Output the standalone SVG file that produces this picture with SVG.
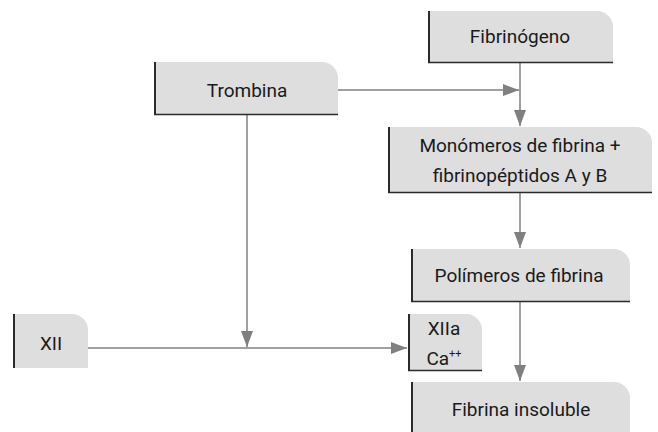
<svg xmlns="http://www.w3.org/2000/svg" width="658" height="432" viewBox="0 0 658 432">
  <style>
    .box { fill: #dedede; }
    .edge-l { stroke: #2b2b2b; stroke-width: 2; fill: none; }
    .edge-b { stroke: #2b2b2b; stroke-width: 1.5; fill: none; }
    .lbl { font-family: Roboto, "Noto Sans", sans-serif; font-size: 19px; fill: #1a1a1a; text-anchor: middle; }
    .conn { stroke: #808080; stroke-width: 1.5; fill: none; }
  </style>
  <defs>
    <marker id="arrow" viewBox="0 0 16 12" refX="16" refY="6" markerWidth="16" markerHeight="12" markerUnits="userSpaceOnUse" orient="auto">
      <path d="M0,0 L16,6 L0,12 Z" fill="#808080"/>
    </marker>
  </defs>

  <rect width="658" height="432" fill="#ffffff"/>

  <!-- connectors -->
  <g id="connectors">
    <line class="conn" x1="338" y1="90" x2="519" y2="90" marker-end="url(#arrow)"/>
    <line class="conn" x1="520" y1="63" x2="520" y2="126" marker-end="url(#arrow)"/>
    <line class="conn" x1="520" y1="193" x2="520" y2="248" marker-end="url(#arrow)"/>
    <line class="conn" x1="520" y1="302" x2="520" y2="381" marker-end="url(#arrow)"/>
    <line class="conn" x1="247" y1="115" x2="247" y2="347" marker-end="url(#arrow)"/>
    <line class="conn" x1="88" y1="348" x2="407" y2="348" marker-end="url(#arrow)"/>
  </g>

  <!-- Trombina -->
  <g id="trombina">
    <path class="box" d="M154,62 H322 A16,16 0 0 1 338,78 V115 H154 Z"/>
    <line class="edge-l" x1="155" y1="62" x2="155" y2="115"/>
    <line class="edge-b" x1="154" y1="114.5" x2="338" y2="114.5"/>
    <text class="lbl" x="247" y="97">Trombina</text>
  </g>

  <!-- Fibrinógeno -->
  <g id="fibrinogeno">
    <path class="box" d="M428,11 H597 A16,16 0 0 1 613,27 V63 H428 Z"/>
    <line class="edge-l" x1="429" y1="11" x2="429" y2="63"/>
    <line class="edge-b" x1="428" y1="62.5" x2="613" y2="62.5"/>
    <text class="lbl" x="520" y="43">Fibrinógeno</text>
  </g>

  <!-- Monómeros de fibrina + fibrinopéptidos A y B -->
  <g id="monomeros">
    <path class="box" d="M388,127 H636 A16,16 0 0 1 652,143 V193 H388 Z"/>
    <line class="edge-l" x1="389" y1="127" x2="389" y2="193"/>
    <line class="edge-b" x1="388" y1="192.5" x2="652" y2="192.5"/>
    <text class="lbl" x="520" y="152">Monómeros de fibrina +</text>
    <text class="lbl" x="520" y="182">fibrinopéptidos A y B</text>
  </g>

  <!-- Polímeros de fibrina -->
  <g id="polimeros">
    <path class="box" d="M411,249 H614 A16,16 0 0 1 630,265 V302 H411 Z"/>
    <line class="edge-l" x1="412" y1="249" x2="412" y2="302"/>
    <line class="edge-b" x1="411" y1="301.5" x2="630" y2="301.5"/>
    <text class="lbl" x="519" y="282">Polímeros de fibrina</text>
  </g>

  <!-- XII -->
  <g id="xii">
    <path class="box" d="M13,314 H72 A16,16 0 0 1 88,330 V368 H13 Z"/>
    <line class="edge-l" x1="14" y1="314" x2="14" y2="368"/>
    <text class="lbl" x="51" y="350">XII</text>
  </g>

  <!-- XIIa / Ca++ -->
  <g id="xiia">
    <path class="box" d="M408,314 H466 A16,16 0 0 1 482,330 V371 H408 Z"/>
    <line class="edge-l" x1="409" y1="314" x2="409" y2="371"/>
    <line class="edge-b" x1="408" y1="370.5" x2="482" y2="370.5"/>
    <text class="lbl" x="444" y="335">XIIa</text>
    <text class="lbl" x="444" y="365">Ca<tspan font-size="11" dy="-8">++</tspan></text>
  </g>

  <!-- Fibrina insoluble -->
  <g id="fibrina-insoluble">
    <path class="box" d="M411,382 H614 A16,16 0 0 1 630,398 V432 H411 Z"/>
    <line class="edge-l" x1="412" y1="382" x2="412" y2="432"/>
    <text class="lbl" x="521" y="416">Fibrina insoluble</text>
  </g>
</svg>
